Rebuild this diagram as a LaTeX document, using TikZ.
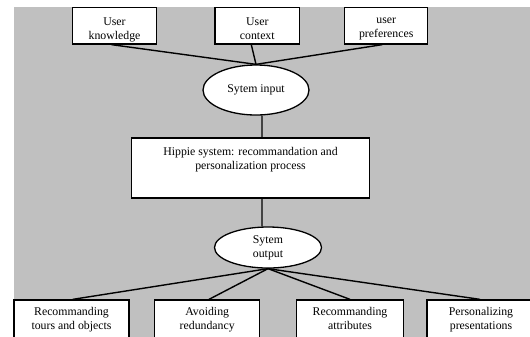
\documentclass[tikz,border=0pt]{standalone}
\usepackage{fontspec}
\setmainfont{Liberation Serif}
\usetikzlibrary{shapes.geometric}
\definecolor{bg}{RGB}{192,192,192}
\tikzset{
  box/.style={draw=black, fill=white, line width=1.3bp, rectangle, inner sep=0pt},
  oval/.style={draw=black, fill=white, line width=1.3bp, ellipse, inner sep=0pt, align=center,
    font=\fontsize{11.8bp}{14bp}\selectfont},
  lbl/.style={anchor=north, inner sep=0pt, align=center, font=\fontsize{11.8bp}{14bp}\selectfont},
  conn/.style={draw=black, line width=1.4bp}
}
\begin{document}
\begin{tikzpicture}[x=1bp,y=-1bp]
\useasboundingbox (0,0) rectangle (530,336);
\clip (0,0) rectangle (530,336);
\fill[bg] (14,7.4) rectangle (532,338);

% top boxes
\node[box, minimum width=83.5bp, minimum height=36.6bp,
  label={[lbl,yshift=-10.8bp]north:User\\knowledge}] (k) at (114.5,25.7) {};
\node[box, minimum width=84.5bp, minimum height=36.6bp,
  label={[lbl,yshift=-10.8bp]north:User\\context}] (c) at (257.3,25.7) {};
\node[box, minimum width=82.8bp, minimum height=36.6bp,
  label={[lbl,yshift=-10.8bp]north:user\\preferences}] (p) at (386.2,25.7) {};

% input ellipse
\node[oval, minimum width=106bp, minimum height=50bp] (in) at (256,90) {Sytem input};

% central box
\node[box, minimum width=237.4bp, minimum height=60bp,
  label={[lbl,yshift=-9.5bp]north:Hippie system: recommandation and\\personalization process}] (hip) at (250.5,168) {};

% output ellipse
\node[oval, minimum width=107bp, minimum height=41bp] (out) at (268,247.5) {Sytem\\output};

% bottom boxes
\node[box, minimum width=115bp, minimum height=45bp,
  label={[lbl,yshift=-7.5bp]north:Recommanding\\tours and objects}] (b1) at (71.5,322.5) {};
\node[box, minimum width=104.8bp, minimum height=45bp,
  label={[lbl,yshift=-7.5bp]north:Avoiding\\redundancy}] (b2) at (207.2,322.5) {};
\node[box, minimum width=106.5bp, minimum height=45bp,
  label={[lbl,yshift=-7.5bp]north:Recommanding\\attributes}] (b3) at (350,322.5) {};
\node[box, minimum width=108bp, minimum height=45bp,
  label={[lbl,yshift=-7.5bp]north:Personalizing\\presentations}] (b4) at (481,322.5) {};

% connectors
\draw[conn] ([xshift=-3bp]k.south) -- (in.north);
\draw[conn] ([xshift=-6bp]c.south) -- (in.north);
\draw[conn] ([xshift=-4bp]p.south) -- (in.north);
\draw[conn] ([xshift=6bp]in.south) -- ([xshift=11.5bp]hip.north);
\draw[conn] ([xshift=11.5bp]hip.south) -- ([xshift=-6bp]out.north);
\draw[conn] (out.south) -- ([xshift=1.2bp]b1.north);
\draw[conn] (out.south) -- ([xshift=1.8bp]b2.north);
\draw[conn] (out.south) -- (b3.north);
\draw[conn] (out.south) -- ([xshift=-1bp]b4.north);
\end{tikzpicture}
\end{document}
